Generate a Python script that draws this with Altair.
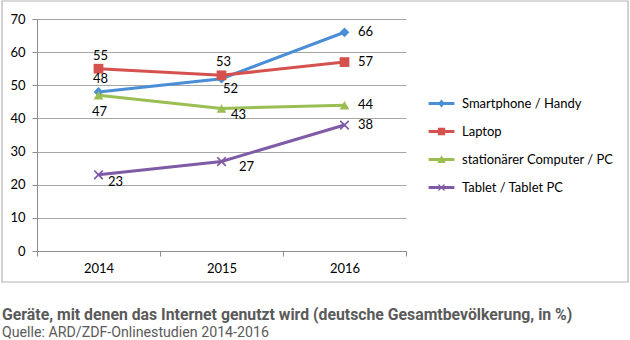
import altair as alt
import pandas as pd

years = ["2014", "2015", "2016"]
series = ["Smartphone / Handy", "Laptop", "stationärer Computer / PC", "Tablet / Tablet PC"]
smartphone = [48, 52, 66]
laptop = [55, 53, 57]
pc = [47, 43, 44]
tablet = [23, 27, 38]
# label placement names (per series, per year)
place_smartphone = ["above", "br_near", "right"]
place_laptop = ["above", "above", "right"]
place_pc = ["below", "br_mid", "right"]
place_tablet = ["br_mid", "br_far", "right"]

title_text = "Geräte, mit denen das Internet genutzt wird (deutsche Gesamtbevölkerung, in %)"
source_text = "Quelle: ARD/ZDF-Onlinestudien 2014-2016"

colors = ["#4A8ED6", "#D4514D", "#9BBE52", "#7F5AA6"]

rows = []
for name, vals, pl in zip(series, [smartphone, laptop, pc, tablet],
                          [place_smartphone, place_laptop, place_pc, place_tablet]):
    for y, v, p in zip(years, vals, pl):
        rows.append({"series": name, "year": y, "value": v, "place": p})
df = pd.DataFrame(rows)

offsets = {
    "right": (21, 0),
    "above": (2, -13),
    "below": (1, 17),
    "br_near": (9, 10),
    "br_mid": (17, 7),
    "br_far": (25, 5),
}

X_PATH = ("M-1,-0.75L-0.75,-1L0,-0.25L0.75,-1L1,-0.75L0.25,0L1,0.75L0.75,1"
          "L0,0.25L-0.75,1L-1,0.75L-0.25,0Z")
plot_shapes = ["diamond", "square", "triangle-up", X_PATH]

LINE = "M-3,-0.36L3,-0.36L3,0.36L-3,0.36Z"
leg_shapes = [
    LINE + "M0,-0.95L0.8,0L0,0.95L-0.8,0Z",
    LINE + "M-0.85,-0.85L0.85,-0.85L0.85,0.85L-0.85,0.85Z",
    LINE + "M0,-1L1,0.8L-1,0.8Z",
    LINE + "M-0.8,-0.6L-0.6,-0.8L0,-0.2L0.6,-0.8L0.8,-0.6L0.2,0L0.8,0.6L0.6,0.8"
           "L0,0.2L-0.6,0.8L-0.8,0.6L-0.2,0Z",
]

FONT = "Lato"
x_enc = alt.X("year:O", sort=years, title=None,
              scale=alt.Scale(paddingInner=0, paddingOuter=0),
              axis=alt.Axis(tickBand="extent", labelAngle=0, labelFontSize=13,
                            labelColor="#000", labelFont=FONT, tickSize=5,
                            labelPadding=6, domainColor="#8c8c8c", tickColor="#8c8c8c",
                            grid=False))
y_enc = alt.Y("value:Q", title=None,
              scale=alt.Scale(domain=[0, 70]),
              axis=alt.Axis(values=list(range(0, 71, 10)), labelFontSize=13,
                            labelColor="#000", labelFont=FONT, tickSize=5,
                            labelPadding=7, domainColor="#8c8c8c", tickColor="#8c8c8c",
                            gridColor="#a6a6a6", gridWidth=1))
color_enc = alt.Color("series:N", sort=series,
                      scale=alt.Scale(domain=series, range=colors), legend=None)

leg = alt.Legend(title=None, orient="none", legendX=398, legendY=78,
                 symbolOpacity=1, symbolSize=74, labelOffset=14,
                 rowPadding=14, labelFont=FONT, labelFontSize=13,
                 labelColor="#000", symbolStrokeWidth=0)

base = alt.Chart(df)
lines = base.mark_line(strokeWidth=3).encode(x=x_enc, y=y_enc, color=color_enc)
points = base.mark_point(filled=True, size=95, opacity=1).encode(
    x=x_enc, y=y_enc, color=color_enc,
    shape=alt.Shape("series:N", sort=series,
                    scale=alt.Scale(domain=series, range=plot_shapes), legend=None))
legend_layer = base.mark_point(filled=True, size=74, opacity=0).encode(
    x=x_enc, y=y_enc,
    fill=alt.Fill("series:N", sort=series,
                  scale=alt.Scale(domain=series, range=colors), legend=leg),
    shape=alt.Shape("series:N", sort=series,
                    scale=alt.Scale(domain=series, range=leg_shapes), legend=leg))

label_layers = []
for pname, (dx, dy) in offsets.items():
    label_layers.append(
        base.transform_filter(alt.datum.place == pname)
        .mark_text(dx=dx, dy=dy, font=FONT, fontSize=13, color="#000")
        .encode(x=x_enc, y=y_enc, text="value:Q"))

one = alt.Chart(pd.DataFrame({"t": [title_text], "s": [source_text]}))
frame = one.mark_rect(fill=None, stroke="#b3b3b3", strokeWidth=1.2).encode(
    x=alt.value(-35), x2=alt.value(591), y=alt.value(-18), y2=alt.value(263))
title = one.mark_text(align="left", baseline="middle", font="Roboto", fontSize=15.8,
                      fontWeight="bold", color="#5a5a5a").encode(
    x=alt.value(-35), y=alt.value(296), text="t:N")
source = one.mark_text(align="left", baseline="middle", font="Roboto", fontSize=14.2,
                       fontWeight="normal", color="#5a5a5a").encode(
    x=alt.value(-35), y=alt.value(314), text="s:N")

chart = alt.layer(frame, lines, points, legend_layer, *label_layers, title, source).resolve_scale(
    shape="independent", fill="independent", color="shared").properties(
    width=369, height=232,
    padding={"left": 37, "top": 19, "right": 224, "bottom": 89},
    autosize="none", background="white",
).configure_view(stroke=None)

chart.save("out.html", embed_options={"renderer": "svg", "actions": False})
